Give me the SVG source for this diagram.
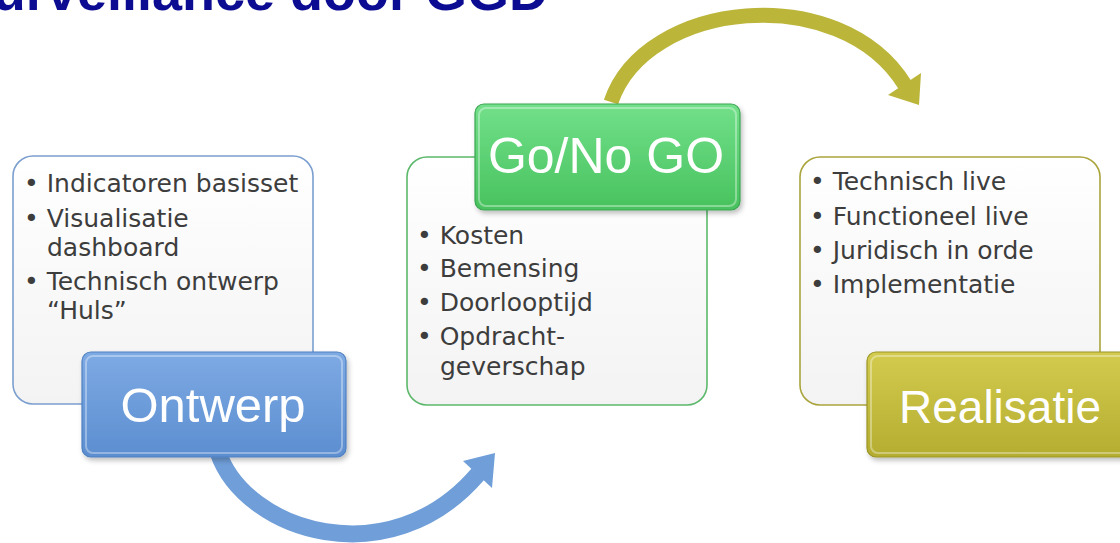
<svg xmlns="http://www.w3.org/2000/svg" width="1120" height="543" viewBox="0 0 1120 543">
<defs>
<style>
.title{font-family:"Liberation Sans",Arial,sans-serif;font-weight:bold;font-size:54px;fill:#0c0c92}
.bul{font-family:"DejaVu Sans","Liberation Sans",sans-serif;font-size:25px;fill:#3d3d3d}
.lbl{font-family:"Liberation Sans",Arial,sans-serif;fill:#ffffff;text-anchor:middle}
.card{stroke-width:1.6}
.bevel{fill:none;stroke:#ffffff;stroke-opacity:0.35;stroke-width:2}
</style>
<linearGradient id="gCard" x1="0" y1="0" x2="0" y2="1">
<stop offset="0" stop-color="#ffffff"/><stop offset="1" stop-color="#f3f3f3"/>
</linearGradient>
<linearGradient id="gBlue" x1="0" y1="0" x2="0" y2="1">
<stop offset="0" stop-color="#7eaae4"/><stop offset="1" stop-color="#5c8ed0"/>
</linearGradient>
<linearGradient id="gGreen" x1="0" y1="0" x2="0" y2="1">
<stop offset="0" stop-color="#72e08a"/><stop offset="1" stop-color="#48c25e"/>
</linearGradient>
<linearGradient id="gOlive" x1="0" y1="0" x2="0" y2="1">
<stop offset="0" stop-color="#d3cb4e"/><stop offset="1" stop-color="#b4ad30"/>
</linearGradient>
<filter id="sh" x="-10%" y="-10%" width="130%" height="130%">
<feDropShadow dx="2" dy="3" stdDeviation="2.5" flood-color="#000000" flood-opacity="0.25"/>
</filter>
</defs>
<rect width="1120" height="543" fill="#ffffff"/>
<text class="title" x="548" y="10" text-anchor="end">Surveillance door GGD</text>

<g id="connectors">
<g id="arrow-blue">
<path d="M 218 452 C 245 532, 390 577, 478 474" fill="none" stroke="#6f9ed8" stroke-width="17"/>
<polygon points="495,453 492,488 463,461" fill="#6f9ed8"/>
</g>
<g id="arrow-olive">
<path d="M 611 102 C 645 0, 840 -20, 905 85" fill="none" stroke="#bbb53a" stroke-width="15"/>
<polygon points="919,105 921,73 888,95" fill="#bbb53a"/>
</g>
</g>

<g id="node-ontwerp">
<rect class="card" x="13" y="156" width="300" height="248" rx="20" fill="url(#gCard)" stroke="#7b9fcf"/>
<text class="bul" x="24" y="192">• Indicatoren basisset</text>
<text class="bul" x="24" y="227">• Visualisatie</text>
<text class="bul" x="47" y="256">dashboard</text>
<text class="bul" x="24" y="290">• Technisch ontwerp</text>
<text class="bul" x="47" y="319">“Huls”</text>
<rect x="82" y="352" width="264" height="105" rx="9" fill="url(#gBlue)" stroke="#4f80c0" stroke-width="1.2" filter="url(#sh)"/>
<rect class="bevel" x="86" y="356" width="256" height="97" rx="7"/>
<text class="lbl" x="213" y="422" font-size="49">Ontwerp</text>
</g>

<g id="node-gonogo">
<rect class="card" x="407" y="157" width="300" height="248" rx="20" fill="url(#gCard)" stroke="#5cb86b"/>
<text class="bul" x="417" y="244">• Kosten</text>
<text class="bul" x="417" y="277">• Bemensing</text>
<text class="bul" x="417" y="311">• Doorlooptijd</text>
<text class="bul" x="417" y="345">• Opdracht-</text>
<text class="bul" x="440" y="375">geverschap</text>
<rect x="475" y="104" width="265" height="106" rx="9" fill="url(#gGreen)" stroke="#3ea552" stroke-width="1.2" filter="url(#sh)"/>
<rect class="bevel" x="479" y="108" width="257" height="98" rx="7"/>
<text class="lbl" x="606" y="173" font-size="50">Go/No GO</text>
</g>

<g id="node-realisatie">
<rect class="card" x="800" y="157" width="300" height="248" rx="20" fill="url(#gCard)" stroke="#aaa43c"/>
<text class="bul" x="810" y="190">• Technisch live</text>
<text class="bul" x="810" y="225">• Functioneel live</text>
<text class="bul" x="810" y="259">• Juridisch in orde</text>
<text class="bul" x="810" y="293">• Implementatie</text>
<rect x="867" y="352" width="270" height="105" rx="9" fill="url(#gOlive)" stroke="#9c9628" stroke-width="1.2" filter="url(#sh)"/>
<rect class="bevel" x="871" y="356" width="262" height="97" rx="7"/>
<text class="lbl" x="1000" y="423" font-size="46">Realisatie</text>
</g>
</svg>
